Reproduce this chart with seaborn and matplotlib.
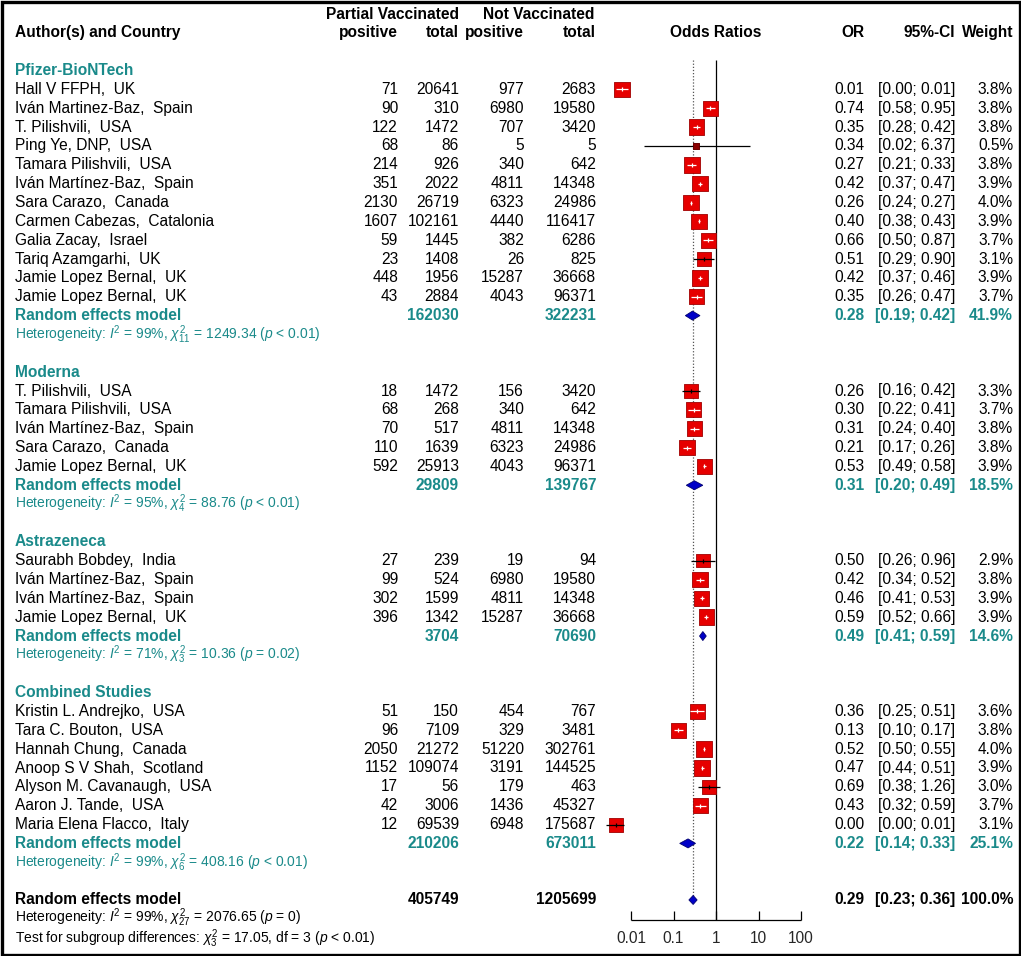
import numpy as np
import pandas as pd
import matplotlib
matplotlib.use("Agg")
import matplotlib.pyplot as plt
import seaborn as sns

# ---------------- data ----------------
groups = ["Pfizer-BioNTech", "Moderna", "Astrazeneca", "Combined Studies"]

study_group = [0] * 12 + [1] * 5 + [2] * 4 + [3] * 7
study_name = [
    "Hall V FFPH,  UK", "Iván Martinez-Baz,  Spain", "T. Pilishvili,  USA", "Ping Ye, DNP,  USA",
    "Tamara Pilishvili,  USA", "Iván Martínez-Baz,  Spain", "Sara Carazo,  Canada",
    "Carmen Cabezas,  Catalonia", "Galia Zacay,  Israel", "Tariq Azamgarhi,  UK",
    "Jamie Lopez Bernal,  UK", "Jamie Lopez Bernal,  UK",
    "T. Pilishvili,  USA", "Tamara Pilishvili,  USA", "Iván Martínez-Baz,  Spain",
    "Sara Carazo,  Canada", "Jamie Lopez Bernal,  UK",
    "Saurabh Bobdey,  India", "Iván Martínez-Baz,  Spain", "Iván Martínez-Baz,  Spain",
    "Jamie Lopez Bernal,  UK",
    "Kristin L. Andrejko,  USA", "Tara C. Bouton,  USA", "Hannah Chung,  Canada",
    "Anoop S V Shah,  Scotland", "Alyson M. Cavanaugh,  USA", "Aaron J. Tande,  USA",
    "Maria Elena Flacco,  Italy",
]
vac_pos = [71, 90, 122, 68, 214, 351, 2130, 1607, 59, 23, 448, 43,
           18, 68, 70, 110, 592,
           27, 99, 302, 396,
           51, 96, 2050, 1152, 17, 42, 12]
vac_tot = [20641, 310, 1472, 86, 926, 2022, 26719, 102161, 1445, 1408, 1956, 2884,
           1472, 268, 517, 1639, 25913,
           239, 524, 1599, 1342,
           150, 7109, 21272, 109074, 56, 3006, 69539]
unv_pos = [977, 6980, 707, 5, 340, 4811, 6323, 4440, 382, 26, 15287, 4043,
           156, 340, 4811, 6323, 4043,
           19, 6980, 4811, 15287,
           454, 329, 51220, 3191, 179, 1436, 6948]
unv_tot = [2683, 19580, 3420, 5, 642, 14348, 24986, 116417, 6286, 825, 36668, 96371,
           3420, 642, 14348, 24986, 96371,
           94, 19580, 14348, 36668,
           767, 3481, 302761, 144525, 463, 45327, 175687]
or_est = [0.0062, 0.74, 0.35, 0.34, 0.27, 0.42, 0.26, 0.40, 0.66, 0.51, 0.42, 0.35,
          0.26, 0.30, 0.31, 0.21, 0.53,
          0.50, 0.42, 0.46, 0.59,
          0.36, 0.13, 0.52, 0.47, 0.69, 0.43, 0.0045]
ci_lo = [0.0045, 0.58, 0.28, 0.02, 0.21, 0.37, 0.24, 0.38, 0.50, 0.29, 0.37, 0.26,
         0.16, 0.22, 0.24, 0.17, 0.49,
         0.26, 0.34, 0.41, 0.52,
         0.25, 0.10, 0.50, 0.44, 0.38, 0.32, 0.0026]
ci_hi = [0.0085, 0.95, 0.42, 6.37, 0.33, 0.47, 0.27, 0.43, 0.87, 0.90, 0.46, 0.47,
         0.42, 0.41, 0.40, 0.26, 0.58,
         0.96, 0.52, 0.53, 0.66,
         0.51, 0.17, 0.55, 0.51, 1.26, 0.59, 0.0068]
weight = [3.8, 3.8, 3.8, 0.5, 3.8, 3.9, 4.0, 3.9, 3.7, 3.1, 3.9, 3.7,
          3.3, 3.7, 3.8, 3.8, 3.9,
          2.9, 3.8, 3.9, 3.9,
          3.6, 3.8, 4.0, 3.9, 3.0, 3.7, 3.1]

grp_vac_tot = [162030, 29809, 3704, 210206]
grp_unv_tot = [322231, 139767, 70690, 673011]
grp_or = [0.28, 0.31, 0.49, 0.22]
grp_lo = [0.19, 0.20, 0.41, 0.14]
grp_hi = [0.42, 0.49, 0.59, 0.33]
grp_weight = [41.9, 18.5, 14.6, 25.1]
grp_i2 = [99, 95, 71, 99]
grp_df = [11, 4, 3, 6]
grp_chi = [1249.34, 88.76, 10.36, 408.16]
grp_p = ["< 0.01", "< 0.01", "= 0.02", "< 0.01"]

all_vac_tot, all_unv_tot = 405749, 1205699
all_or, all_lo, all_hi, all_weight = 0.29, 0.23, 0.36, 100.0
all_i2, all_df, all_chi, all_p = 99, 27, 2076.65, "= 0"
sub_chi, sub_df, sub_p = 17.05, 3, "< 0.01"

axis_ticks = [0.01, 0.1, 1, 10, 100]
axis_labels = ["0.01", "0.1", "1", "10", "100"]

# ---------------- style ----------------
sns.set_theme(style="white")
plt.rcParams["font.family"] = ["Liberation Sans", "DejaVu Sans"]
plt.rcParams["mathtext.fontset"] = "custom"
plt.rcParams["mathtext.rm"] = "Liberation Sans"
plt.rcParams["mathtext.it"] = "Liberation Sans:italic"
plt.rcParams["mathtext.bf"] = "Liberation Sans:bold"

TEAL = "#1a8a8a"
RED = "#e60000"
BLUE = "#0000c8"
FS = 11.2
FS_SMALL = 10.0
W, H = 1021, 956
ROW0, ROWH = 14, 18.85
DEC = 42.5  # pixels per decade on the OR axis

def ry(r):
    return ROW0 + ROWH * r

# column anchors (pixels)
X_NAME = 15
X_VPOS, X_VTOT, X_UPOS, X_UTOT = 398, 459, 524, 596
X_OR, X_CI, X_W = 864, 955, 1013

fig = plt.figure(figsize=(W / 100, H / 100), dpi=100)
ax = fig.add_axes([0, 0, 1, 1])
ax.set_xlim(0, W)
ax.set_ylim(H, 0)
ax.axis("off")

# forest axes (log scale), x=1 sits at pixel 716
lx0, lx1 = -2.6, 2.2
px0, px1 = 716 + DEC * lx0, 716 + DEC * lx1
fx = fig.add_axes([px0 / W, 0, (px1 - px0) / W, 1])
fx.set_xscale("log")
fx.set_xlim(10 ** lx0, 10 ** lx1)
fx.set_ylim(H, 0)
fx.axis("off")
fx.patch.set_alpha(0)

def txt(x, y, s, ha="right", bold=False, color="black", fs=FS):
    ax.text(x, y, s, ha=ha, va="center", fontsize=fs, color=color,
            fontweight="bold" if bold else "normal")

# header
txt(392, ry(0), "Partial Vaccinated", ha="center", bold=True)
txt(539, ry(0), "Not Vaccinated", ha="center", bold=True)
txt(X_NAME, ry(1), "Author(s) and Country", ha="left", bold=True)
for x, s in [(X_VPOS, "positive"), (X_VTOT, "total"), (X_UPOS, "positive"),
             (X_UTOT, "total"), (X_OR, "OR"), (X_CI, "95%-CI"), (X_W, "Weight")]:
    txt(x, ry(1), s, bold=True)
txt(716, ry(1), "Odds Ratios", ha="center", bold=True)

def het_text(i2, df, chi, p):
    return (r"Heterogeneity: $I^2$ = " + f"{i2}%, " + r"$\chi^2_{" + str(df) + "}$"
            + f" = {chi:.2f} (" + r"$p$" + f" {p})")

# build study rows
rows = []
diamonds = []
r = 3
for g, gname in enumerate(groups):
    txt(X_NAME, ry(r), gname, ha="left", bold=True, color=TEAL)
    r += 1
    for i in [k for k, gg in enumerate(study_group) if gg == g]:
        y = ry(r)
        txt(X_NAME, y, study_name[i], ha="left")
        txt(X_VPOS, y, str(vac_pos[i]))
        txt(X_VTOT, y, str(vac_tot[i]))
        txt(X_UPOS, y, str(unv_pos[i]))
        txt(X_UTOT, y, str(unv_tot[i]))
        txt(X_OR, y, f"{or_est[i]:.2f}")
        txt(X_CI, y, f"[{ci_lo[i]:.2f}; {ci_hi[i]:.2f}]")
        txt(X_W, y, f"{weight[i]:.1f}%")
        rows.append((y, or_est[i], ci_lo[i], ci_hi[i], weight[i]))
        r += 1
    y = ry(r)
    txt(X_NAME, y, "Random effects model", ha="left", bold=True, color=TEAL)
    txt(X_VTOT, y, str(grp_vac_tot[g]), bold=True, color=TEAL)
    txt(X_UTOT, y, str(grp_unv_tot[g]), bold=True, color=TEAL)
    txt(X_OR, y, f"{grp_or[g]:.2f}", bold=True, color=TEAL)
    txt(X_CI, y, f"[{grp_lo[g]:.2f}; {grp_hi[g]:.2f}]", bold=True, color=TEAL)
    txt(X_W, y, f"{grp_weight[g]:.1f}%", bold=True, color=TEAL)
    diamonds.append((y, grp_or[g], grp_lo[g], grp_hi[g]))
    r += 1
    txt(X_NAME, ry(r), het_text(grp_i2[g], grp_df[g], grp_chi[g], grp_p[g]),
        ha="left", color=TEAL, fs=FS_SMALL)
    r += 2

# overall
y_all = ry(r)
txt(X_NAME, y_all, "Random effects model", ha="left", bold=True)
txt(X_VTOT, y_all, str(all_vac_tot), bold=True)
txt(X_UTOT, y_all, str(all_unv_tot), bold=True)
txt(X_OR, y_all, f"{all_or:.2f}", bold=True)
txt(X_CI, y_all, f"[{all_lo:.2f}; {all_hi:.2f}]", bold=True)
txt(X_W, y_all, f"{all_weight:.1f}%", bold=True)
diamonds.append((y_all, all_or, all_lo, all_hi))
txt(X_NAME, ry(r + 1) - 1, het_text(all_i2, all_df, all_chi, all_p), ha="left", fs=FS_SMALL)
txt(X_NAME, ry(r + 2) + 1.5, r"Test for subgroup differences: $\chi^2_{" + str(sub_df) + "}$"
    + f" = {sub_chi:.2f}, df = {sub_df} (" + r"$p$" + f" {sub_p})", ha="left", fs=FS_SMALL)

# reference lines
y_axis = ry(r + 1) + 1
fx.vlines(1, 60, y_axis, color="black", lw=0.9, zorder=1)
fx.vlines(all_or, 60, y_all - 3, color="#555555", lw=0.9, ls=(0, (1, 1.5)), zorder=1)

# studies
df = pd.DataFrame(rows, columns=["y", "or", "lo", "hi", "w"])
SIDE = 15.5  # px side for 3.8 %
df["half"] = SIDE / 2 * np.sqrt(df["w"] / 3.8)
df["sq_lo"] = df["or"] * 10 ** (-df["half"] / DEC)
df["sq_hi"] = df["or"] * 10 ** (df["half"] / DEC)
df["inside"] = (df["lo"] >= df["sq_lo"]) & (df["hi"] <= df["sq_hi"])
side_pt2 = (SIDE * 0.72) ** 2
sns.scatterplot(data=df, x="or", y="y", size="w", sizes=(0, side_pt2),
                size_norm=(0, 3.8), marker="s", color=RED, edgecolor="#a00000",
                linewidth=0.6, legend=False, ax=fx, zorder=3)
# tiny weight study drawn dark
small = df[df["w"] < 1]
for _, row in df.iterrows():
    c = "white" if row["inside"] else "black"
    fx.hlines(row["y"], row["lo"], row["hi"], color=c, lw=0.9, zorder=4)
    if row["w"] >= 1:
        fx.vlines(row["or"], row["y"] - 2, row["y"] + 2, color=c, lw=0.9, zorder=4)
sns.scatterplot(data=small, x="or", y="y", marker="s", s=20, color="#8b0000",
                edgecolor="#5a0000", linewidth=0.5, legend=False, ax=fx, zorder=5)

# diamonds
for y, o, lo, hi in diamonds:
    fx.fill([lo, o, hi, o], [y, y - 4.5, y, y + 4.5], facecolor=BLUE,
            edgecolor="#00006e", lw=0.6, zorder=3)

# x axis
fx.hlines(y_axis, axis_ticks[0], axis_ticks[-1], color="black", lw=0.9)
fx.vlines(axis_ticks, y_axis - 9, y_axis, color="black", lw=0.9)
for t, lab in zip(axis_ticks, axis_labels):
    fx.text(t, y_axis + 19, lab, ha="center", va="center", fontsize=FS)
fx.set_xlim(10 ** lx0, 10 ** lx1)
fx.set_ylim(H, 0)

# frame
ax.add_patch(plt.Rectangle((1.5, 1.5), W - 3, H - 3, fill=False, lw=2.4,
                           edgecolor="black", zorder=10))

fig.savefig("out.png", dpi=100)
